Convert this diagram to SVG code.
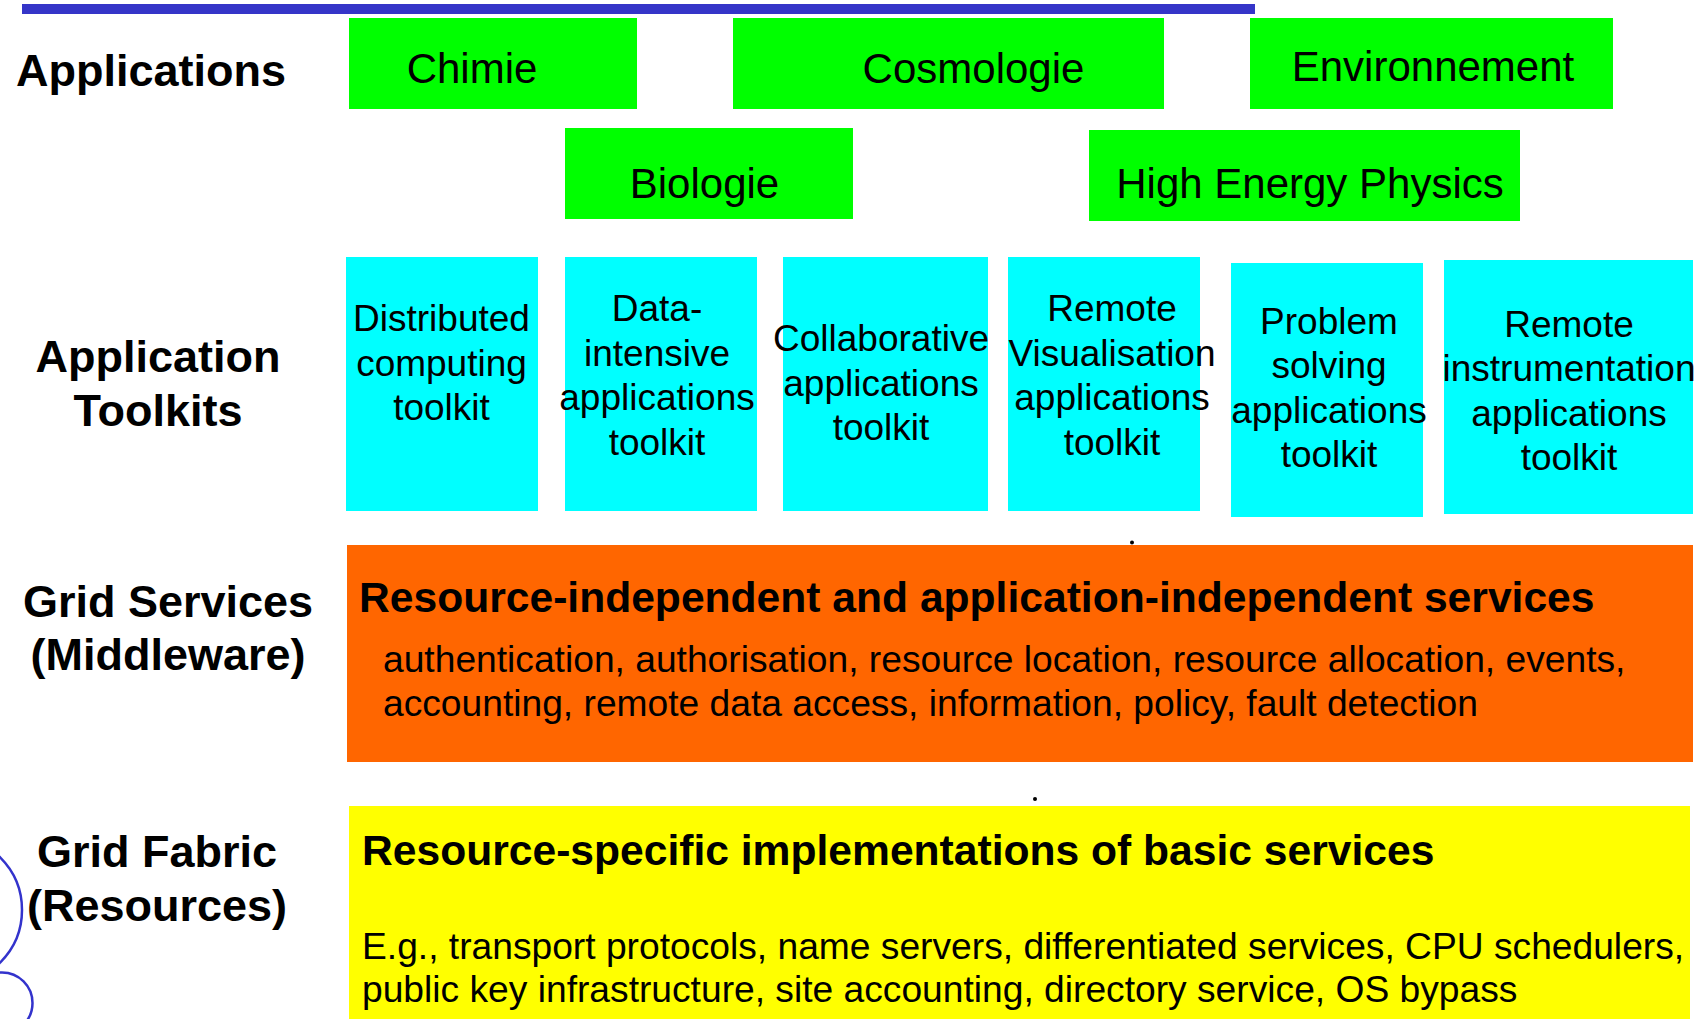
<svg xmlns="http://www.w3.org/2000/svg" width="1702" height="1019" viewBox="0 0 1702 1019">
<style>
.lbl{font-family:"Liberation Sans",Arial,sans-serif;font-weight:bold;font-size:45px;fill:#000;text-anchor:middle}
.app{fill:#00ff00}
.apt{font-family:"Liberation Sans",Arial,sans-serif;font-size:42px;fill:#000;text-anchor:middle}
.tk{fill:#00ffff}
.tkt{font-family:"Liberation Sans",Arial,sans-serif;font-size:37px;fill:#000;text-anchor:middle}
.hd{font-family:"Liberation Sans",Arial,sans-serif;font-weight:bold;font-size:42.6px;fill:#000}
.bd{font-family:"Liberation Sans",Arial,sans-serif;font-size:37.2px;fill:#000}
.deco{fill:none;stroke:#3333cc;stroke-width:2.5}
</style>
<rect x="22" y="4" width="1233" height="10" fill="#3535c8"/>
<g id="decor">
<circle class="deco" cx="-52" cy="910" r="74"/>
<circle class="deco" cx="2" cy="1003" r="30.5"/>
<circle cx="1132" cy="542.5" r="2" fill="#000"/>
<circle cx="1035" cy="799" r="2" fill="#000"/>
</g>
<g id="labels">
<text class="lbl" x="151" y="86">Applications</text>
<text class="lbl" x="158" y="372">Application</text>
<text class="lbl" x="158" y="426">Toolkits</text>
<text class="lbl" x="168" y="617">Grid Services</text>
<text class="lbl" x="168" y="670">(Middleware)</text>
<text class="lbl" x="157" y="867">Grid Fabric</text>
<text class="lbl" x="157" y="921">(Resources)</text>
</g>
<g id="chimie"><rect class="app" x="349" y="18" width="288" height="91"/><text class="apt" x="472" y="83">Chimie</text></g>
<g id="cosmologie"><rect class="app" x="733" y="18" width="431" height="91"/><text class="apt" x="973.5" y="83">Cosmologie</text></g>
<g id="environnement"><rect class="app" x="1250" y="18" width="363" height="91"/><text class="apt" x="1433" y="81">Environnement</text></g>
<g id="biologie"><rect class="app" x="565" y="128" width="288" height="91"/><text class="apt" x="704.5" y="198">Biologie</text></g>
<g id="hep"><rect class="app" x="1089" y="130" width="431" height="91"/><text class="apt" x="1310" y="198">High Energy Physics</text></g>
<g id="tk-distributed"><rect class="tk" x="346" y="257" width="192" height="254"/>
<text class="tkt" x="441.5" y="331">Distributed</text><text class="tkt" x="441.5" y="375.5">computing</text><text class="tkt" x="441.5" y="420">toolkit</text></g>
<g id="tk-data"><rect class="tk" x="565" y="257" width="192" height="254"/>
<text class="tkt" x="657" y="321">Data-</text><text class="tkt" x="657" y="365.5">intensive</text><text class="tkt" x="657" y="410">applications</text><text class="tkt" x="657" y="454.5">toolkit</text></g>
<g id="tk-collab"><rect class="tk" x="783" y="257" width="205" height="254"/>
<text class="tkt" x="881" y="351">Collaborative</text><text class="tkt" x="881" y="395.5">applications</text><text class="tkt" x="881" y="440">toolkit</text></g>
<g id="tk-vis"><rect class="tk" x="1008" y="257" width="192" height="254"/>
<text class="tkt" x="1112" y="321">Remote</text><text class="tkt" x="1112" y="365.5">Visualisation</text><text class="tkt" x="1112" y="410">applications</text><text class="tkt" x="1112" y="454.5">toolkit</text></g>
<g id="tk-problem"><rect class="tk" x="1231" y="263" width="192" height="254"/>
<text class="tkt" x="1329" y="333.5">Problem</text><text class="tkt" x="1329" y="378">solving</text><text class="tkt" x="1329" y="422.5">applications</text><text class="tkt" x="1329" y="467">toolkit</text></g>
<g id="tk-instr"><rect class="tk" x="1444" y="260" width="249" height="254"/>
<text class="tkt" x="1569" y="337">Remote</text><text class="tkt" x="1569" y="381">instrumentation</text><text class="tkt" x="1569" y="425.5">applications</text><text class="tkt" x="1569" y="470">toolkit</text></g>
<g id="middleware"><rect x="347" y="545" width="1346" height="217" fill="#ff6600"/>
<text class="hd" x="359" y="612">Resource-independent and application-independent services</text>
<text class="bd" x="383" y="672">authentication, authorisation, resource location, resource allocation, events,</text>
<text class="bd" x="383" y="716">accounting, remote data access, information, policy, fault detection</text></g>
<g id="fabric"><rect x="349" y="806" width="1341" height="213" fill="#ffff00"/>
<text class="hd" x="362" y="865">Resource-specific implementations of basic services</text>
<text class="bd" x="362" y="959">E.g., transport protocols, name servers, differentiated services, CPU schedulers,</text>
<text class="bd" x="362" y="1002">public key infrastructure, site accounting, directory service, OS bypass</text></g>
<g id="connectors"></g>
</svg>
